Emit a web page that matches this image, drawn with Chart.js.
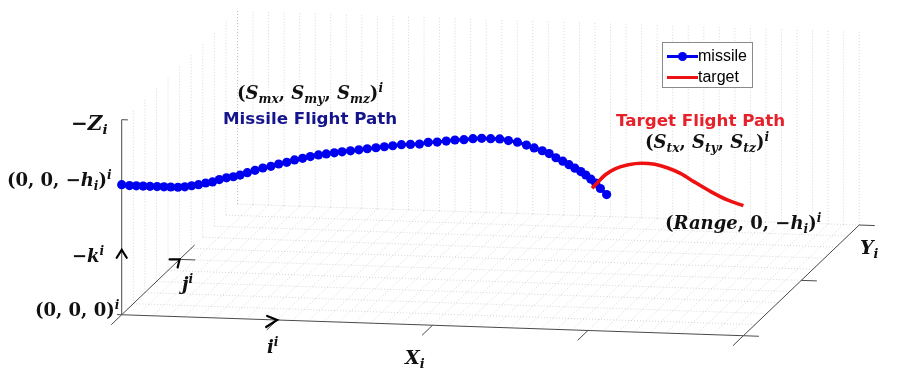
<!DOCTYPE html>
<html>
<head>
<meta charset="utf-8">
<script src="https://cdn.jsdelivr.net/npm/chart.js@4/dist/chart.umd.min.js"></script>
<style>
  html, body { margin: 0; padding: 0; background: #fff; }
  #wrap { position: relative; width: 914px; height: 373px; overflow: hidden; }
  #c { position: absolute; left: 0; top: 0; }
  .m { position: absolute; font-family: "DejaVu Serif", serif; font-weight: bold; color: #111;
       white-space: nowrap; line-height: 1; }
  .m i { font-style: italic; }
  .m sub { font-size: 0.68em; vertical-align: baseline; position: relative; top: 0.32em; line-height: 0; }
  .m sup { font-size: 0.68em; vertical-align: baseline; position: relative; top: -0.55em; line-height: 0; }
  .cap { position: absolute; font-family: "DejaVu Sans", sans-serif; font-weight: bold;
         white-space: nowrap; line-height: 1; }
  #legend { position: absolute; left: 662px; top: 42px; width: 89px; height: 44px;
            border: 1px solid #8a8a8a; background: #fff;
            font-family: "Liberation Sans", Arial, sans-serif; font-size: 16px; color: #000; }
  .row { position: absolute; left: 0; height: 20px; width: 89px; }
  .row .ln { position: absolute; left: 4px; width: 31px; height: 3px; top: 9px; }
  .row .dot { position: absolute; left: 15px; top: 6px; width: 9px; height: 9px; border-radius: 50%; }
  .row .tx { position: absolute; left: 35px; top: 1px; }
</style>
</head>
<body>
<div id="wrap">
  <canvas id="c" width="914" height="373"></canvas>

  <div class="m" style="left:71px;top:113px;font-size:20px;">&minus;<i>Z</i><sub><i>i</i></sub></div>
  <div class="m" style="left:7px;top:171px;font-size:18px;">(0, 0, &minus;<i>h</i><sub><i>i</i></sub>)<sup><i>i</i></sup></div>
  <div class="m" style="left:72px;top:247px;font-size:18px;">&minus;<i>k</i><sup><i>i</i></sup></div>
  <div class="m" style="left:35px;top:301px;font-size:18px;">(0, 0, 0)<sup><i>i</i></sup></div>
  <div class="m" style="left:182px;top:275px;font-size:18px;"><i>j</i><sup><i>i</i></sup></div>
  <div class="m" style="left:267px;top:338px;font-size:18px;"><i>i</i><sup><i>i</i></sup></div>
  <div class="m" style="left:405px;top:348px;font-size:19px;"><i>X</i><sub><i>i</i></sub></div>
  <div class="m" style="left:860px;top:238px;font-size:19px;"><i>Y</i><sub><i>i</i></sub></div>
  <div class="m" style="left:237px;top:84px;font-size:18px;">(<i>S</i><sub><i>mx</i></sub>, <i>S</i><sub><i>my</i></sub>, <i>S</i><sub><i>mz</i></sub>)<sup><i>i</i></sup></div>
  <div class="m" style="left:645px;top:133px;font-size:18px;">(<i>S</i><sub><i>tx</i></sub>, <i>S</i><sub><i>ty</i></sub>, <i>S</i><sub><i>tz</i></sub>)<sup><i>i</i></sup></div>
  <div class="m" style="left:665px;top:214px;font-size:18px;">(<i>Range</i>, 0, &minus;<i>h</i><sub><i>i</i></sub>)<sup><i>i</i></sup></div>

  <div class="cap" style="left:223px;top:110px;font-size:16.7px;color:#14148c;">Missile Flight Path</div>
  <div class="cap" style="left:616px;top:112px;font-size:16.7px;color:#e8202a;">Target Flight Path</div>

  <div id="legend"></div>
</div>

<script>
// Missile trajectory: downrange distance X (km) and altitude -Z (km)
const missileX = [0.00, 0.25, 0.47, 0.69, 0.91, 1.14, 1.36, 1.58, 1.81, 2.03,
                  2.25, 2.47, 2.70, 2.92, 3.14, 3.37, 3.59, 3.81, 4.04, 4.29,
                  4.54, 4.80, 5.05, 5.31, 5.56, 5.82, 6.07, 6.33, 6.58, 6.84,
                  7.09, 7.36, 7.63, 7.90, 8.18, 8.45, 8.72, 9.00, 9.29, 9.58,
                  9.86, 10.15, 10.44, 10.72, 11.01, 11.30, 11.58, 11.87, 12.16, 12.44,
                  12.73, 13.02, 13.27, 13.53, 13.75, 13.97, 14.19, 14.39, 14.58, 14.77,
                  14.93, 15.09, 15.25, 15.40, 15.60];
const missileZ = [2.00, 1.99, 1.99, 1.99, 1.99, 1.99, 1.99, 1.99, 1.99, 2.00,
                  2.02, 2.04, 2.07, 2.09, 2.13, 2.16, 2.18, 2.21, 2.25, 2.29,
                  2.33, 2.36, 2.40, 2.43, 2.47, 2.50, 2.53, 2.56, 2.58, 2.60,
                  2.62, 2.64, 2.66, 2.68, 2.70, 2.72, 2.74, 2.76, 2.77, 2.78,
                  2.81, 2.82, 2.84, 2.86, 2.87, 2.89, 2.90, 2.90, 2.90, 2.88,
                  2.86, 2.82, 2.78, 2.74, 2.70, 2.64, 2.59, 2.54, 2.49, 2.44,
                  2.39, 2.33, 2.27, 2.19, 2.10];

// Target trajectory, ending at (Range, 0, -h)
const targetX = [15.13, 15.29, 15.55, 15.87, 16.30, 16.72, 17.15, 17.57, 17.99, 18.42,
                 18.95, 19.48, 20.00];
const targetZ = [2.19, 2.27, 2.40, 2.50, 2.57, 2.60, 2.59, 2.54, 2.46, 2.34,
                 2.20, 2.08, 2.00];

// Cross-range of both paths (flight in the vertical plane Y = 0)
const pathY = 0;

// Axis extents and tick / grid values
const xTicks = [0, 5, 10, 15, 20];
const yTicks = [0, 1, 2];
const zTicks = [0, 1, 2, 3];
const xGridStep = 0.5;
const yGridStep = 0.2;
const xMax = 20, yMax = 2, zMax = 3;

// Oblique view of the 3-D box onto the flat canvas coordinates
const VIEW = {
  origin: { x: 118.3, y: 318 },
  ex: { x: 31.4, y: 1.075 },
  ey: { x: 58.5, y: -56.75 },
  ez: { x: 0, y: -66.67 }
};
function proj(X, Y, Z) {
  return {
    x: VIEW.origin.x + X * VIEW.ex.x + Y * VIEW.ey.x + Z * VIEW.ez.x,
    y: VIEW.origin.y + X * VIEW.ex.y + Y * VIEW.ey.y + Z * VIEW.ez.y
  };
}

const missilePts = missileX.map((x, i) => proj(x, pathY, missileZ[i]));
const targetPts = targetX.map((x, i) => proj(x, pathY, targetZ[i]));

// Box, grid, ticks and unit-vector arrows of the 3-D axes
const box3d = {
  id: 'box3d',
  beforeDatasetsDraw(chart) {
    const ctx = chart.ctx;
    const sx = chart.scales.x, sy = chart.scales.y;
    const P = (X, Y, Z) => { const v = proj(X, Y, Z); return { x: sx.getPixelForValue(v.x), y: sy.getPixelForValue(v.y) }; };
    const seg = (a, b) => { ctx.beginPath(); ctx.moveTo(a.x, a.y); ctx.lineTo(b.x, b.y); ctx.stroke(); };

    ctx.save();
    // dotted grid
    ctx.strokeStyle = 'rgba(150,150,150,0.38)';
    ctx.lineWidth = 1;
    ctx.setLineDash([1, 2]);
    const nX = Math.round(xMax / xGridStep), nY = Math.round(yMax / yGridStep);
    for (let k = 1; k <= nY; k++) {
      const Y = k * yGridStep;
      seg(P(0, Y, 0), P(xMax, Y, 0));          // floor, along X
      seg(P(0, Y, 0), P(0, Y, zMax));          // side wall
    }
    for (let k = 1; k <= nX; k++) {
      const X = k * xGridStep;
      seg(P(X, 0, 0), P(X, yMax, 0));          // floor, along Y
    }
    for (let k = 0; k <= nX; k++) {
      const X = k * xGridStep;
      seg(P(X, yMax, 0), P(X, yMax, zMax));    // back wall
    }
    ctx.setLineDash([]);

    // axis lines
    ctx.strokeStyle = '#4a4a4a';
    ctx.lineWidth = 1;
    seg(P(0, 0, 0), P(xMax, 0, 0));
    seg(P(xMax, 0, 0), P(xMax, yMax, 0));
    seg(P(0, 0, 0), P(0, 0, zMax));
    seg(P(0, 0, 0), P(0, 1.26, 0));

    // ticks
    xTicks.forEach(X => seg(P(X, 0, 0), P(X, -0.18, 0)));
    yTicks.forEach(Y => seg(P(xMax, Y, 0), P(xMax + 0.5, Y, 0)));
    seg(P(0, 1, 0), P(0.5, 1, 0));
    seg(P(0, 0, zMax), P(0.2, 0, zMax));
    seg(P(0, 0, 0), P(-0.15, 0, 0));

    // unit vectors i, j, -k at the first tick of each axis
    ctx.strokeStyle = '#000';
    ctx.lineWidth = 2.2;
    ctx.lineCap = 'round';
    const chevron = (tip, a, b) => {
      ctx.beginPath();
      ctx.moveTo(tip.x + a[0], tip.y + a[1]);
      ctx.lineTo(tip.x, tip.y);
      ctx.lineTo(tip.x + b[0], tip.y + b[1]);
      ctx.stroke();
    };
    chevron(P(5, 0, 0), [-10, -4], [-11, 7]);
    chevron(P(0, 1, 0), [-10, 0], [-2, 8]);
    chevron(P(0, 0, 1), [-5, 8], [5, 8]);
    ctx.restore();
  }
};

const chart = new Chart(document.getElementById('c'), {
  type: 'scatter',
  data: {
    datasets: [
      {
        label: 'missile',
        data: missilePts,
        showLine: true,
        borderColor: '#0000f0',
        backgroundColor: '#0000f0',
        borderWidth: 3.2,
        pointRadius: 4.6,
        pointBorderWidth: 0,
        pointBackgroundColor: '#0000f0',
        tension: 0,
        order: 2
      },
      {
        label: 'target',
        data: targetPts,
        showLine: true,
        borderColor: '#ee1111',
        backgroundColor: '#ee1111',
        borderWidth: 3.6,
        pointRadius: 0,
        cubicInterpolationMode: 'monotone',
        order: 1
      }
    ]
  },
  options: {
    responsive: false,
    devicePixelRatio: 1,
    animation: false,
    layout: { padding: 0 },
    scales: {
      x: { type: 'linear', min: 0, max: 914, display: false },
      y: { type: 'linear', min: 0, max: 373, reverse: true, display: false }
    },
    plugins: {
      legend: { display: false },
      tooltip: { enabled: false }
    }
  },
  plugins: [box3d]
});

// Legend built from the chart's datasets
const legendEl = document.getElementById('legend');
chart.data.datasets.forEach((ds, i) => {
  const row = document.createElement('div');
  row.className = 'row';
  row.style.top = (3 + i * 21) + 'px';
  const ln = document.createElement('div');
  ln.className = 'ln';
  ln.style.background = ds.borderColor;
  row.appendChild(ln);
  if (ds.pointRadius > 0) {
    const dot = document.createElement('div');
    dot.className = 'dot';
    dot.style.background = ds.pointBackgroundColor;
    row.appendChild(dot);
  }
  const tx = document.createElement('div');
  tx.className = 'tx';
  tx.textContent = ds.label;
  row.appendChild(tx);
  legendEl.appendChild(row);
});
</script>
</body>
</html>
